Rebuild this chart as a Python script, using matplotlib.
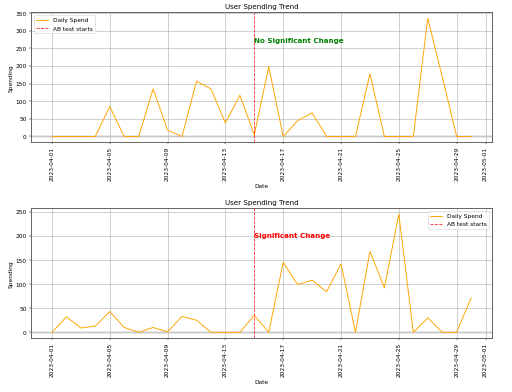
import matplotlib
matplotlib.use("Agg")
import matplotlib.pyplot as plt
import matplotlib.dates as mdates
import pandas as pd

dates = pd.date_range("2023-04-01", "2023-04-30", freq="D")
ab_start = pd.Timestamp("2023-04-15")

spend_top = [0, 0, 0, 0, 85, 0, 0, 135, 18, 0,
             157, 135, 38, 117, 5, 198, 0, 45, 67, 0,
             0, 0, 178, 0, 0, 0, 335, 170, 0, 0]
spend_bottom = [0, 32, 9, 13, 43, 10, 0, 10, 1, 33,
                25, 0, 0, 0, 35, 0, 145, 99, 108, 84,
                142, 0, 168, 92, 245, 0, 30, 0, 0, 71]

labels = ["No Significant Change", "Significant Change"]
label_colors = ["green", "red"]
legend_locs = ["upper left", "upper right"]
series = [spend_top, spend_bottom]

fig, axes = plt.subplots(2, 1, figsize=(12, 9.2), dpi=42.67)
for ax, vals, lab, col, loc in zip(axes, series, labels, label_colors, legend_locs):
    ax.plot(dates, vals, color="orange", linewidth=1.6, label="Daily Spend")
    ax.axvline(ab_start, color="red", linestyle="--", linewidth=1.4, alpha=0.85, label="AB test starts")
    ax.axhline(0, color="lightgray", linewidth=5, alpha=0.5, zorder=0)
    ax.text(ab_start, max(vals) * 0.8, lab, color=col, fontsize=12, fontweight="bold")
    ax.set_title("User Spending Trend")
    ax.set_xlabel("Date")
    ax.set_ylabel("Spending")
    ax.grid(True, color="#b8b8b8", linewidth=1.1)
    ax.legend(loc=loc)
    for s in ax.spines.values():
        s.set_color("#555555")
        s.set_linewidth(1.5)
    ax.xaxis.set_major_locator(mdates.AutoDateLocator())
    ax.xaxis.set_major_formatter(mdates.DateFormatter("%Y-%m-%d"))
    for t in ax.get_xticklabels():
        t.set_rotation(90)
fig.subplots_adjust(left=0.0605, right=0.961, top=0.967, bottom=0.137, hspace=0.506)
fig.savefig("out.png")
